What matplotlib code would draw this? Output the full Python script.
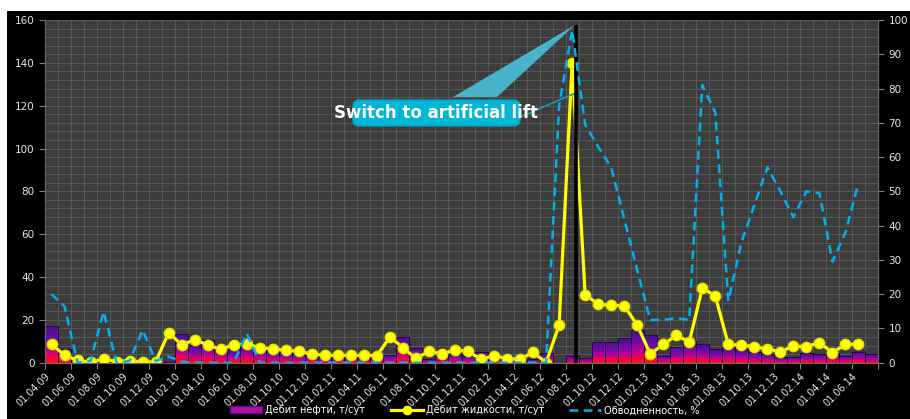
import numpy as np
import pandas as pd
import matplotlib
matplotlib.use('Agg')
import matplotlib.pyplot as plt
from matplotlib.colors import LinearSegmentedColormap
from matplotlib.patches import Rectangle, Polygon, FancyBboxPatch, Patch
from matplotlib.lines import Line2D

# monthly data, 01.04.09 .. 01.07.14
months = pd.date_range('2009-04-01', periods=64, freq='MS').strftime('%d.%m.%y').tolist()

# oil rate, t/day (bars)
oil = [17.0, 6.5, 2.8, 0.4, 0.3, 0.3, 0.3, 0.3, 0.3, 0.5,
       13.3, 8.2, 10.5, 8.0, 6.2, 9.5, 7.0, 5.8, 5.2, 4.6,
       3.6, 3.0, 3.0, 3.0, 3.0, 3.0, 3.5, 11.9, 6.7, 1.6,
       3.0, 3.9, 3.0, 5.1, 1.7, 0.7, 0.7, 1.7, 4.6, 0.0,
       3.3, 2.2, 9.5, 9.7, 11.4, 15.3, 12.9, 3.3, 7.2, 10.0,
       8.6, 6.3, 7.4, 6.5, 5.0, 3.9, 2.6, 2.6, 4.4, 3.9,
       4.6, 3.3, 5.2, 3.9]

# liquid rate, t/day (yellow line)
liquid = [8.6, 3.5, 1.1, 0.2, 1.7, 0.5, 1.0, 0.3, 0.4, 14.0,
          8.4, 10.7, 8.4, 6.2, 8.4, 8.7, 7.0, 6.4, 5.8, 5.3,
          4.1, 3.4, 3.4, 3.4, 3.4, 3.3, 12.0, 7.0, 2.0, 5.3,
          4.1, 6.0, 5.3, 1.6, 3.2, 1.9, 1.6, 4.9, 0.0, 17.6,
          140.0, 31.8, 27.3, 26.8, 26.6, 17.6, 4.1, 8.5, 12.7, 9.7,
          34.8, 31.2, 8.5, 8.2, 7.5, 6.3, 5.2, 7.7, 7.5, 9.4,
          4.7, 8.6, 8.6]

# water cut, % (right axis)
watercut = [20.0, 16.4, 0.0, 0.5, 14.9, 0.0, 0.5, 9.5, 0.5, 1.8,
            0.3, 0.0, 0.0, 0.0, 0.0, 8.5, 0.0, 0.0, 0.0, 0.0,
            0.0, 0.0, 0.0, 0.0, 0.0, 0.0, 0.0, 0.0, 0.0, 0.0,
            0.0, 0.0, 0.0, 0.0, 0.0, 0.0, 0.0, 0.0, 0.0, 75.0,
            97.0, 69.5, 63.0, 57.0, 42.0, 27.0, 12.5, 12.5, 13.0, 12.5,
            81.0, 73.0, 18.0, 35.0, 46.0, 57.0, 50.0, 42.5, 50.0, 49.5,
            29.5, 38.0, 52.5]

labels = ['Дебит нефти, т/сут', 'Дебит жидкости, т/сут', 'Обводненность, %']

W, H = 910, 419
def px(x, y):
    return (x / W, 1 - y / H)

fig = plt.figure(figsize=(W / 100, H / 100), dpi=100, facecolor='white')
fig.patches.append(Rectangle((7 / W, 0), 1, 1 - 11 / H, transform=fig.transFigure,
                             facecolor='black', edgecolor='none', zorder=-5))

ax = fig.add_axes([45 / W, 1 - 362.7 / H, 833 / W, 342.7 / H])
ax.set_facecolor('#3c3c3c')
x = np.arange(len(oil))

# gradient bars: red at the bottom, purple at the top
cmap = LinearSegmentedColormap.from_list('oil', [(0, '#ff1a00'), (0.12, '#ff0040'),
                                                  (0.4, '#b0009a'), (0.7, '#6410a8'),
                                                  (1, '#48108a')])
grad = np.linspace(0, 1, 100).reshape(-1, 1)
bars = ax.bar(x, oil, width=1.0, color='none', edgecolor='#2a0648', lw=0.7, zorder=3)
for b in bars:
    if b.get_height() <= 0:
        continue
    ax.imshow(grad, extent=[b.get_x(), b.get_x() + b.get_width(), 0, b.get_height()],
              origin='lower', aspect='auto', cmap=cmap, zorder=2)

ax.plot(x[:len(liquid)], liquid, color='#ffff00', lw=2.3, marker='o', ms=7.5,
        mfc='#ffff00', mec='#e0e000', zorder=4)

# switch moment
ax.vlines(40.3, 0, 157.8, color='black', lw=2.6, zorder=6)

ax.set_xlim(-0.5, 63.5)
ax.set_ylim(0, 160)
ax.set_yticks(np.arange(0, 161, 20))
ax.set_yticks(np.arange(0, 161, 4), minor=True)
ax.set_xticks(np.arange(-0.5, 64, 2))
ax.set_xticklabels(months[0::2] + [''])
ax.set_xticks(np.arange(-0.5, 64, 1), minor=True)
ax.grid(which='both', color='#585858', lw=0.7)
ax.set_axisbelow(True)
ax.tick_params(which='minor', length=0)
ax.tick_params(axis='both', which='major', length=4, color='#808080',
               labelcolor='#e6e6e6', labelsize=7.5)
ax.tick_params(axis='x', pad=2, labelsize=7)
plt.setp(ax.get_xticklabels(), rotation=45, ha='right', rotation_mode='anchor')
for s in ax.spines.values():
    s.set_color('#6a6a6a')
ax.spines['top'].set_visible(False)

ax2 = ax.twinx()
ax2.plot(x[:len(watercut)], watercut, color='#00b0f0', lw=1.8, ls=(0, (3.5, 2.2)), zorder=5)
ax2.set_ylim(0, 100)
ax2.set_yticks(np.arange(0, 101, 10))
ax2.tick_params(length=4, color='#808080', labelcolor='#e6e6e6', labelsize=7.5)
for s in ax2.spines.values():
    s.set_color('#6a6a6a')
ax2.spines['top'].set_visible(False)

# callout
fig.patches.append(Polygon([px(453, 97), px(497, 97), px(575, 25)], closed=True,
                           transform=fig.transFigure, facecolor='#48b2ca',
                           edgecolor='none', zorder=2))
fig.lines.append(Line2D([px(500, 126)[0], px(573, 94)[0]], [px(500, 126)[1], px(573, 94)[1]],
                        transform=fig.transFigure, color='#1a98b4', lw=1.2, zorder=2))
fig.patches.append(FancyBboxPatch(px(353, 126), 167 / W, 26 / H,
                                  boxstyle='round,pad=0,rounding_size=0.007',
                                  mutation_aspect=W / H, transform=fig.transFigure,
                                  facecolor='#00b6d6', edgecolor='#0a9ec0', lw=1, zorder=3))
fig.text(436.5 / W, 1 - 113 / H, 'Switch to artificial lift', color='white',
         fontsize=12, fontweight='bold', ha='center', va='center', zorder=4)

handles = [Patch(facecolor='#b0109a', edgecolor='#5a0a90'),
           Line2D([], [], color='#ffff00', lw=2.3, marker='o', ms=6),
           Line2D([], [], color='#00b0f0', lw=1.8, ls=(0, (3.5, 2.2)))]
fig.legend(handles, labels, loc='center', bbox_to_anchor=(0.511, 0.021), ncol=3,
           frameon=False, fontsize=7, labelcolor='white', handlelength=3.3,
           columnspacing=2.6, handletextpad=0.3)

fig.savefig('out.png', dpi=100, facecolor=fig.get_facecolor())
